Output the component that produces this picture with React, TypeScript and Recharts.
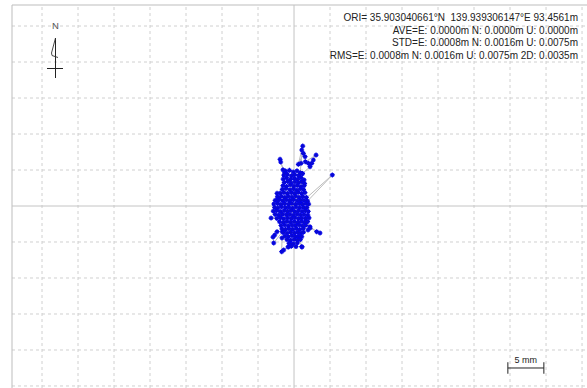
import {
  ReferenceLine,
  Scatter,
  ScatterChart,
  XAxis,
  YAxis,
} from "recharts";

// Horizontal fixes relative to ORI, in millimetres: [east, north].
// The track is cut into segments in recorded order so the joining line matches.
type Fix = [number, number];

const coreTop: Fix[] = [
  [-1.18, 4.86], [-0.64, 4.95], [-0.12, 4.72], [0.41, 4.88], [0.86, 4.61],
];

const spikeNorthEast: Fix[] = [
  [0.97, 5.93], [1.21, 8.33], [1.07, 7.78], [0.6, 5.79], [1.29, 7.32], [1.53, 6.85],
  [1.57, 6.15], [3.06, 7.08], [2.68, 6.39], [2.46, 5.93], [1.99, 5.93], [2.22, 5.46],
  [1.18, 4.52],
];

const spikeNorthWest: Fix[] = [
  [-1.53, 5.02], [-1.94, 6.49], [-1.85, 6.11], [-1.31, 4.62],
];

const coreUpper: Fix[] = [
  [-1.42, 4.28], [-0.93, 4.41], [-0.37, 4.19], [0.08, 4.36], [0.63, 4.22], [1.14, 4.47],
  [-1.51, 3.74], [-1.02, 3.91], [-0.48, 3.68], [0.03, 3.86], [0.52, 3.71], [0.97, 3.93], [1.39, 3.62],
  [-1.36, 3.27], [-0.88, 3.41], [-0.41, 3.18], [0.12, 3.35], [0.61, 3.22], [1.08, 3.38], [1.47, 3.12],
  [-1.54, 2.82], [-1.04, 2.71], [-0.53, 2.93], [-0.02, 2.76], [0.47, 2.88], [0.98, 2.69], [1.41, 2.84],
  [-1.63, 2.31], [-1.12, 2.42], [-0.58, 2.24], [-0.09, 2.37], [0.39, 2.21], [0.87, 2.39], [1.32, 2.27],
  [-2.36, 1.76], [-1.92, 1.79], [-1.41, 1.88], [-0.93, 1.72], [-0.38, 1.84], [0.11, 1.76], [0.58, 1.91], [1.07, 1.74], [1.52, 1.86],
  [-2.13, 1.07], [-2.31, 1.27], [-1.79, 1.36], [-1.28, 1.21], [-0.82, 1.34], [-0.29, 1.24], [0.22, 1.38], [0.68, 1.22], [1.19, 1.33], [1.71, 1.19],
  [-2.62, 0.78], [-2.26, 0.83], [-2.08, 0.86], [-1.57, 0.73], [-1.09, 0.84], [-0.61, 0.76], [-0.08, 0.88], [0.43, 0.71], [0.91, 0.83], [1.38, 0.77], [1.88, 0.69],
];

const jumpEast: Fix[] = [
  [5.32, 4.31], [0.93, 0.42],
];

const coreMiddle: Fix[] = [
  [-2.81, 0.28], [-2.27, 0.36], [-1.83, 0.22], [-1.31, 0.34], [-0.77, 0.26], [-0.32, 0.38], [0.19, 0.24], [0.72, 0.33], [1.18, 0.21], [1.67, 0.37], [2.03, 0.27],
  [-2.69, -0.18], [-2.23, -0.27], [-1.72, -0.13], [-1.18, -0.24], [-0.71, -0.16], [-0.19, -0.29], [0.28, -0.14], [0.79, -0.26], [1.31, -0.17], [1.79, -0.22],
  [-2.88, -0.71], [-2.41, -0.63], [-1.92, -0.77], [-1.38, -0.66], [-0.91, -0.74], [-0.42, -0.62], [0.09, -0.78], [0.61, -0.67], [1.12, -0.73], [1.58, -0.64], [1.97, -0.76],
  [-2.63, -1.17], [-2.12, -1.26], [-1.61, -1.14], [-1.07, -1.23], [-0.58, -1.16], [-0.11, -1.28], [0.42, -1.13], [0.88, -1.24], [1.39, -1.19], [1.92, -1.27],
  [-3.19, -1.67], [-2.38, -1.72], [-1.87, -1.64], [-1.42, -1.78], [-0.89, -1.66], [-0.38, -1.74], [0.13, -1.63], [0.62, -1.76], [1.09, -1.68], [1.61, -1.73], [2.08, -1.66],
];

const tailSouthEast: Fix[] = [
  [1.94, -3.33], [2.22, -2.88], [3.15, -3.57], [3.61, -3.75], [2.22, -3.06], [1.52, -2.31],
];

const coreLower: Fix[] = [
  [-2.02, -2.19], [-1.49, -2.27], [-0.98, -2.14], [-0.51, -2.24], [0.02, -2.16], [0.48, -2.28], [1.01, -2.13], [1.47, -2.23], [1.88, -2.18],
  [-1.81, -2.71], [-1.28, -2.64], [-0.79, -2.77], [-0.27, -2.66], [0.21, -2.74], [0.71, -2.63], [1.18, -2.76], [1.62, -2.68],
  [-1.68, -3.17], [-1.19, -3.26], [-0.72, -3.13], [-0.18, -3.24], [0.31, -3.16], [0.79, -3.27], [1.28, -3.14],
];

const tailSouthWest: Fix[] = [
  [-2.36, -3.57], [-2.68, -4.03], [-2.92, -4.31], [-2.82, -5.14], [-1.61, -3.58],
];

const coreBottom: Fix[] = [
  [-1.52, -3.68], [-0.97, -3.76], [-0.49, -3.63], [0.04, -3.74], [0.52, -3.66], [0.98, -3.77], [1.31, -3.64],
  [-1.27, -4.18], [-0.81, -4.26], [-0.29, -4.13], [0.18, -4.24], [0.69, -4.16], [1.08, -4.27],
];

const tailSouth: Fix[] = [
  [0.56, -4.26], [1.07, -5.65], [1.11, -5.69], [0.71, -4.52],
  [-0.98, -4.68], [-0.47, -4.76], [0.03, -4.63], [0.49, -4.74], [0.87, -4.66],
  [-1.67, -4.44], [-1.71, -6.35], [-1.43, -6.11], [-0.83, -5.69], [-0.74, -5.65], [-0.56, -5.14],
  [-0.69, -5.18], [-0.12, -5.26], [0.46, -5.13], [-0.38, -5.58], [0.27, -5.64],
];

// grid every 5 mm, origin lines drawn solid
const gridTicksE = [-35, -30, -25, -20, -15, -10, -5, 5, 10, 15, 20, 25, 30, 35, 40];
const gridTicksN = [-25, -20, -15, -10, -5, 5, 10, 15, 20, 25];
const domainE: [number, number] = [-39.17, 40.69];
const domainN: [number, number] = [-25.28, 27.92];

const infoLines = [
  "ORI= 35.903040661°N  139.939306147°E 93.4561m",
  "AVE=E: 0.0000m N: 0.0000m U: 0.0000m",
  "STD=E: 0.0008m N: 0.0016m U: 0.0075m",
  "RMS=E: 0.0008m N: 0.0016m U: 0.0075m 2D: 0.0035m",
];

const track = [
  ...coreTop,
  ...spikeNorthEast,
  ...spikeNorthWest,
  ...coreUpper,
  ...jumpEast,
  ...coreMiddle,
  ...tailSouthEast,
  ...coreLower,
  ...tailSouthWest,
  ...coreBottom,
  ...tailSouth,
].map(([e, n]) => ({ e, n }));

const FONT = "'Liberation Sans', Arial, sans-serif";
const GRID = "#d0d0d0";

function FixMark(props: any) {
  const { cx, cy } = props;
  if (cx == null || cy == null) return null;
  return (
    <g>
      <rect x={cx - 1.8} y={cy - 1.8} width={3.6} height={3.6} fill="#0000f5" />
      <path
        d={`M${cx - 2.5},${cy}H${cx + 2.5}M${cx},${cy - 2.5}V${cy + 2.5}`}
        stroke="#0a0ad0"
        strokeWidth={1.2}
      />
    </g>
  );
}

export default function App() {
  return (
    <div style={{ position: "absolute", left: 0, top: 0, width: 587, height: 388, background: "#fff" }}>
      <ScatterChart width={587} height={388} margin={{ top: 5, right: 0, bottom: 0, left: 12 }}>
        <XAxis
          type="number"
          dataKey="e"
          domain={domainE}
          allowDataOverflow
          height={0}
          tick={false}
          axisLine={false}
          tickLine={false}
        />
        <YAxis
          type="number"
          dataKey="n"
          domain={domainN}
          allowDataOverflow
          width={0}
          tick={false}
          axisLine={false}
          tickLine={false}
        />
        {gridTicksE.map((v) => (
          <ReferenceLine key={`e${v}`} x={v} stroke={GRID} strokeDasharray="3 3" ifOverflow="visible" />
        ))}
        {gridTicksN.map((v) => (
          <ReferenceLine key={`n${v}`} y={v} stroke={GRID} strokeDasharray="3 3" ifOverflow="visible" />
        ))}
        {/* plot frame, left and top edges */}
        <ReferenceLine x={domainE[0]} stroke="#bdbdbd" ifOverflow="visible" />
        <ReferenceLine y={domainN[1]} stroke="#bdbdbd" ifOverflow="visible" />
        <ReferenceLine x={0} stroke="#c4c4c4" />
        <ReferenceLine y={0} stroke="#c4c4c4" />
        <Scatter
          data={track}
          line={{ stroke: "#bcbcbc", strokeWidth: 1 }}
          lineType="joint"
          shape={FixMark}
          isAnimationActive={false}
        />
        {/* scale bar: 5 mm */}
        <ReferenceLine
          segment={[{ x: 29.7, y: -22.5 }, { x: 34.7, y: -22.5 }]}
          stroke="#222"
          ifOverflow="visible"
          label={{ value: "5 mm", position: "top", offset: 5, fill: "#222", fontSize: 9, fontFamily: FONT }}
        />
        <ReferenceLine segment={[{ x: 29.7, y: -21.7 }, { x: 29.7, y: -23.3 }]} stroke="#222" ifOverflow="visible" />
        <ReferenceLine segment={[{ x: 34.7, y: -21.7 }, { x: 34.7, y: -23.3 }]} stroke="#222" ifOverflow="visible" />
      </ScatterChart>
      <svg
        width={587}
        height={388}
        style={{ position: "absolute", left: 0, top: 0, pointerEvents: "none" }}
      >
        <text x={55.5} y={29} textAnchor="middle" fontSize={9.5} fontFamily={FONT} fill="#555">
          N
        </text>
        <line x1={55.5} y1={38} x2={55.5} y2={78} stroke="#222" />
        <line x1={47} y1={68.5} x2={63} y2={68.5} stroke="#222" />
        <polyline points="55.5,38 51.5,53 52,55.5 58,57.5" fill="none" stroke="#333" strokeWidth={0.9} />
        {infoLines.map((t, i) => (
          <text
            key={i}
            x={578}
            y={21 + i * 12.5}
            textAnchor="end"
            fontSize={10}
            fontFamily={FONT}
            fill="#222"
            style={{ whiteSpace: "pre" }}
          >
            {t}
          </text>
        ))}
      </svg>
    </div>
  );
}
